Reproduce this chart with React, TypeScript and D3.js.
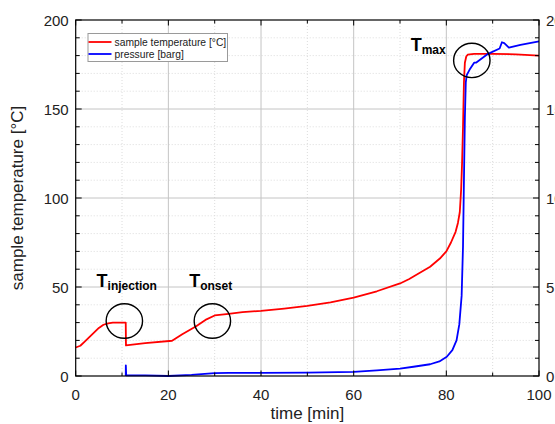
import React from "react";
import * as d3 from "d3";

const tempTime = [0, 1, 2, 3, 4, 5, 6, 7, 8, 10.8, 10.85, 15, 20.8, 23, 26, 28, 30, 33, 36, 40, 45, 50, 55, 60, 65, 70, 72, 73, 76.5, 78.6, 80, 81, 82, 82.5, 82.9, 83.2, 83.4, 83.6, 83.8, 84.0, 84.3, 84.6, 86, 90, 95, 100];
const tempValue = [16, 17, 19.5, 22, 24.5, 27, 28.8, 29.6, 30, 30, 17.2, 18.5, 19.8, 23.5, 28, 31.5, 34, 34.9, 35.9, 36.6, 37.9, 39.4, 41.4, 44, 47.6, 52, 54.5, 56, 61.4, 66, 70, 75, 81, 86, 92, 105, 120, 140, 165, 176, 179.5, 180.5, 181, 181, 180.7, 180];

const pressTime = [10.8, 10.82, 10.9, 11, 15, 20, 25, 30, 33, 40, 50, 60, 65, 70, 72.9, 76.5, 78.5, 80.1, 81.3, 82.2, 82.8, 83.3, 83.6, 83.8, 84.0, 84.2, 84.4, 85.0, 86.0, 86.4, 89, 91.5, 92.0, 92.5, 93.5, 96, 100];
const pressValue = [0, 0.6, 0.05, 0.04, 0.03, 0, 0.06, 0.16, 0.17, 0.17, 0.19, 0.23, 0.32, 0.42, 0.52, 0.66, 0.82, 1.08, 1.45, 2.0, 2.9, 4.5, 7.3, 11.0, 14.5, 16.5, 16.9, 17.2, 17.6, 17.6, 18.1, 18.4, 18.75, 18.7, 18.45, 18.6, 18.8];

const xTicks = [0, 20, 40, 60, 80, 100];
const yTicks = [0, 50, 100, 150, 200];
const y2Ticks = [0, 5, 10, 15, 20];

const legendLabels = ["sample temperature [°C]", "pressure [barg]"];

const annotations = [
  { t: 10.5, v: 30.9, labelT: 4.5, labelV: 50.2, main: "T", sub: "injection" },
  { t: 29.5, v: 30.9, labelT: 24.5, labelV: 50.2, main: "T", sub: "onset" },
  { t: 85.5, v: 177.3, labelT: 72.3, labelV: 182.7, main: "T", sub: "max" },
];

const W = 555;
const H = 424;
const FONT = "'Liberation Sans', Arial, sans-serif";

export default function App() {
  const left = 75.7, right = 539, top = 20, bottom = 376;
  const x = d3.scaleLinear().domain([0, 100]).range([left, right]);
  const y = d3.scaleLinear().domain([0, 200]).range([bottom, top]);
  const y2 = d3.scaleLinear().domain([0, 20]).range([bottom, top]);

  const tempLine = d3.line<number>().x((_, i) => x(tempTime[i])).y((d) => y(d));
  const pressLine = d3.line<number>().x((_, i) => x(pressTime[i])).y((d) => y2(d));

  const xMinor = d3.range(0, 101, 10);
  const yMinor = d3.range(0, 201, 10);

  return (
    <svg width={W} height={H} style={{ position: "absolute", left: 0, top: 0, overflow: "hidden" }} fontFamily={FONT}>
      <rect width={W} height={H} fill="#fff" />
      {/* minor grid */}
      {xMinor.filter((v) => v % 20 !== 0).map((v) => (
        <line key={"xm" + v} x1={x(v)} x2={x(v)} y1={top} y2={bottom} stroke="#dcdcdc" strokeDasharray="1,2" />
      ))}
      {yMinor.filter((v) => v % 50 !== 0).map((v) => (
        <line key={"ym" + v} x1={left} x2={right} y1={y(v)} y2={y(v)} stroke="#dcdcdc" strokeDasharray="1,2" />
      ))}
      {/* major grid */}
      {xTicks.filter((v) => v > 0 && v < 100).map((v) => (
        <line key={"xg" + v} x1={x(v)} x2={x(v)} y1={top} y2={bottom} stroke="#c4c4c4" />
      ))}
      {yTicks.filter((v) => v > 0 && v < 200).map((v) => (
        <line key={"yg" + v} x1={left} x2={right} y1={y(v)} y2={y(v)} stroke="#c4c4c4" />
      ))}

      {/* data */}
      <path d={tempLine(tempValue) || ""} fill="none" stroke="#ff0000" strokeWidth={1.8} strokeLinejoin="round" />
      <path d={pressLine(pressValue) || ""} fill="none" stroke="#0000ff" strokeWidth={1.8} strokeLinejoin="round" />

      {/* frame */}
      <rect x={left} y={top} width={right - left} height={bottom - top} fill="none" stroke="#000" strokeWidth={1.2} />
      {/* ticks */}
      {xMinor.map((v) => {
        const major = v % 20 === 0;
        const len = major ? 5.5 : 3.5;
        return (
          <g key={"xt" + v}>
            <line x1={x(v)} x2={x(v)} y1={bottom} y2={bottom - len} stroke="#000" />
            <line x1={x(v)} x2={x(v)} y1={top} y2={top + len} stroke="#000" />
          </g>
        );
      })}
      {yMinor.map((v) => {
        const major = v % 50 === 0;
        const len = major ? 6 : 4;
        return (
          <g key={"yt" + v}>
            <line x1={left} x2={left + len} y1={y(v)} y2={y(v)} stroke="#000" />
            <line x1={right} x2={right - len} y1={y(v)} y2={y(v)} stroke="#000" />
          </g>
        );
      })}
      {/* tick labels */}
      {xTicks.map((v) => (
        <text key={"xl" + v} x={x(v)} y={400} textAnchor="middle" fontSize={15} fill="#222">{v}</text>
      ))}
      {yTicks.map((v) => (
        <text key={"yl" + v} x={left - 7} y={y(v)} dy="0.37em" textAnchor="end" fontSize={15} fill="#222">{v}</text>
      ))}
      {y2Ticks.map((v) => (
        <text key={"y2l" + v} x={right + 7} y={y2(v)} dy="0.37em" textAnchor="start" fontSize={15} fill="#222">{v}</text>
      ))}
      {/* axis titles */}
      <text x={(left + right) / 2} y={419} textAnchor="middle" fontSize={17} fill="#222">time [min]</text>
      <text transform={`translate(23, ${(top + bottom) / 2}) rotate(-90)`} textAnchor="middle" fontSize={17} fill="#222">sample temperature [°C]</text>

      {/* legend */}
      <rect x={88} y={33.5} width={139.5} height={28} fill="#fff" stroke="#9a9a9a" strokeWidth={1} />
      <line x1={88.5} x2={111.5} y1={42} y2={42} stroke="#ff0000" strokeWidth={1.8} />
      <line x1={88.5} x2={111.5} y1={54} y2={54} stroke="#0000ff" strokeWidth={1.8} />
      <text x={114.5} y={45.6} fontSize={10.3} fill="#222">{legendLabels[0]}</text>
      <text x={114.5} y={57.6} fontSize={10.3} fill="#222">{legendLabels[1]}</text>

      {/* annotations */}
      {annotations.map((a) => (
        <g key={a.sub}>
          <ellipse cx={x(a.t)} cy={y(a.v)} rx={18.2} ry={17.2} fill="none" stroke="#000" strokeWidth={1.4} />
          <text x={x(a.labelT)} y={y(a.labelV)} fontSize={18} fontWeight="bold" fill="#000">
            {a.main}
            <tspan fontSize={12} dy={3.3}>{a.sub}</tspan>
          </text>
        </g>
      ))}
    </svg>
  );
}
